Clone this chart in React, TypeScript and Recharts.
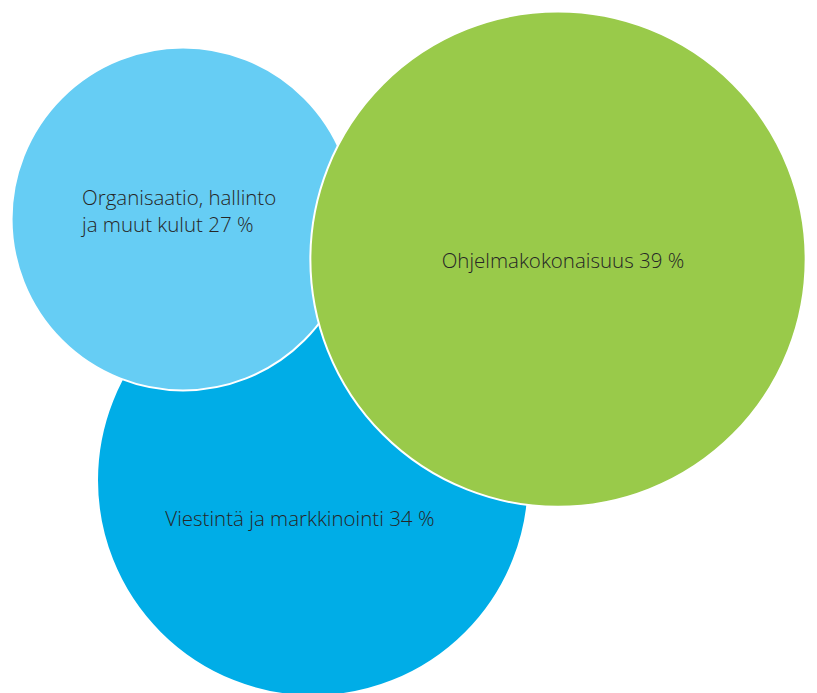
import { ScatterChart, Scatter, XAxis, YAxis, ZAxis, Cell } from 'recharts';

// drawn back to front: blue, light blue, green
const categories = ['Viestintä ja markkinointi', 'Organisaatio, hallinto ja muut kulut', 'Ohjelmakokonaisuus'];
const shares = [34, 27, 39];
const bubbleX = [38.3, 22.4, 68.3];
const bubbleY = [30.7, 68.4, 62.6];
const labelLines = [
  ['Viestintä ja markkinointi 34 %'],
  ['Organisaatio, hallinto', 'ja muut kulut 27 %'],
  ['Ohjelmakokonaisuus 39 %'],
];

const COLORS = ['#00ADE7', '#66CDF4', '#99CA4A'];
const LABEL_POS = [
  { dx: -13, dy: 46, anchor: 'middle' },
  { dx: -101, dy: -14, anchor: 'start' },
  { dx: 5, dy: 9, anchor: 'middle' },
];

const data = categories.map((name, i) => ({
  name,
  x: bubbleX[i],
  y: bubbleY[i],
  z: shares[i],
  lines: labelLines[i],
  idx: i,
}));

function Bubble(props: any) {
  const { cx, cy, size, fill, payload } = props;
  const pos = LABEL_POS[payload.idx];
  return (
    <g>
      <circle cx={cx} cy={cy} r={size} fill={fill} stroke="#fff" strokeWidth={2} />
      <text
        x={cx + pos.dx}
        y={cy + pos.dy}
        textAnchor={pos.anchor}
        fill="#262626"
        fontFamily="'Open Sans', sans-serif"
        fontWeight={300}
        fontSize={20.5}
      >
        {payload.lines.map((l: string, j: number) => (
          <tspan key={j} x={cx + pos.dx} dy={j === 0 ? 0 : 27}>
            {l}
          </tspan>
        ))}
      </text>
    </g>
  );
}

export default function App() {
  return (
    <div style={{ position: 'absolute', left: 0, top: 0, width: 817, height: 693, background: '#fff' }}>
      <ScatterChart width={817} height={693} margin={{ top: 0, right: 0, bottom: 0, left: 0 }}>
        <XAxis type="number" dataKey="x" domain={[0, 100]} hide />
        <YAxis type="number" dataKey="y" domain={[0, 100]} hide />
        <ZAxis type="number" dataKey="z" domain={[0, 100]} range={[0, 635]} />
        <Scatter data={data} shape={Bubble} isAnimationActive={false}>
          {data.map((d, i) => (
            <Cell key={d.name} fill={COLORS[i]} />
          ))}
        </Scatter>
      </ScatterChart>
    </div>
  );
}
